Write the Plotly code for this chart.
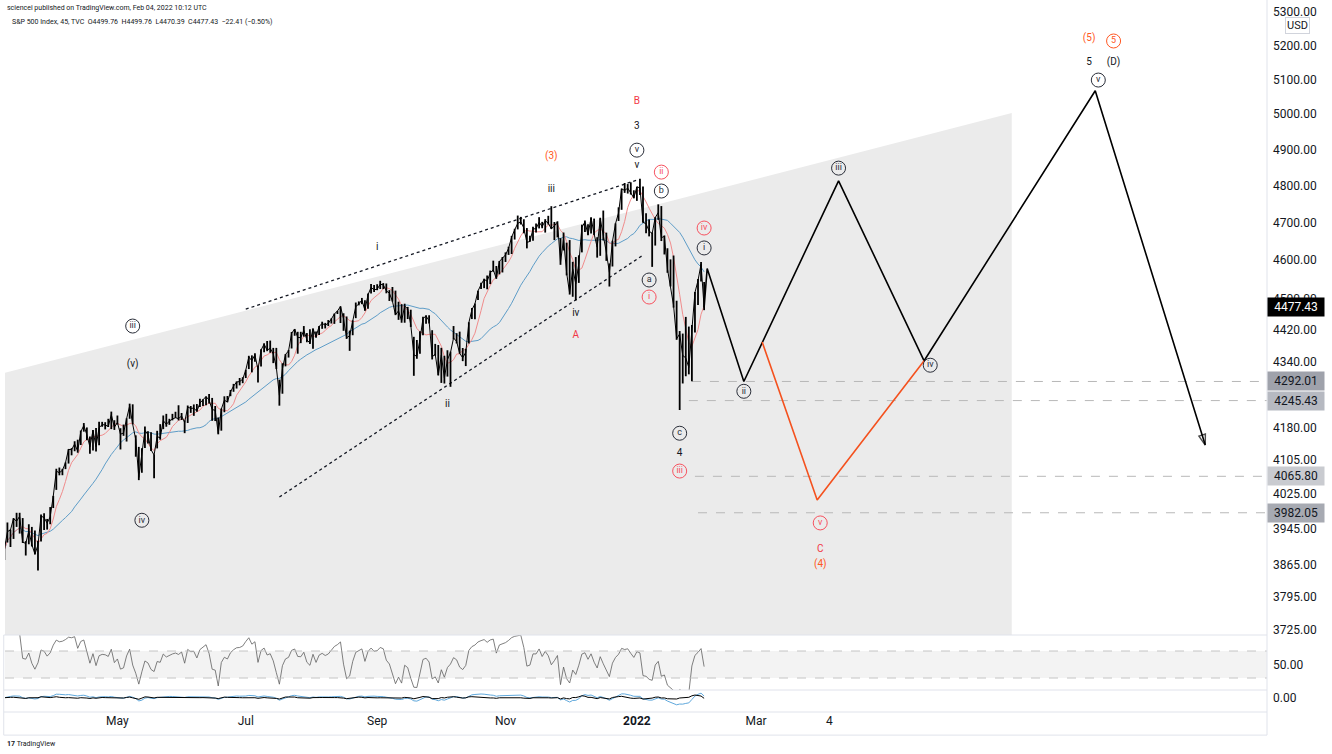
import math
import pandas as pd
import plotly.graph_objects as go

# ---- S&P 500 daily bars (Mar 10 2021 - Feb 3 2022) ----
market_holidays = ["2021-04-02", "2021-05-31", "2021-07-05", "2021-09-06",
                   "2021-11-25", "2021-12-24", "2022-01-17"]
future_holidays = ["2022-02-21", "2022-04-15", "2022-05-30", "2022-06-20",
                   "2022-07-04", "2022-09-05"]

closes = [
    # Mar
    3898.8, 3939.3, 3943.3, 3968.9, 3962.7, 3974.1, 3915.5, 3913.1, 3940.6, 3910.5, 3889.1, 3909.5, 3974.5, 3971.1, 3958.6, 3972.9,
    # Apr
    4019.9, 4077.9, 4073.9, 4079.9, 4097.2, 4128.8, 4128.0, 4141.6, 4124.7, 4170.4, 4185.5, 4163.3, 4134.9, 4173.4, 4135.0, 4180.2, 4187.6, 4186.7, 4183.2, 4211.5, 4181.2,
    # May
    4192.7, 4164.7, 4167.6, 4201.6, 4232.6, 4188.4, 4152.1, 4063.0, 4112.5, 4173.9, 4163.3, 4127.8, 4115.7, 4159.1, 4156.0, 4197.1, 4188.1, 4196.0, 4200.9, 4204.1,
    # Jun
    4202.0, 4208.1, 4192.9, 4229.9, 4226.5, 4227.3, 4219.6, 4239.2, 4247.4, 4255.2, 4246.6, 4223.7, 4221.9, 4166.5, 4224.8, 4246.4, 4241.8, 4266.5, 4280.7, 4290.6, 4291.8, 4297.5,
    # Jul
    4319.9, 4352.3, 4343.5, 4358.1, 4320.8, 4369.6, 4384.6, 4369.2, 4374.3, 4360.0, 4327.2, 4258.5, 4323.1, 4358.7, 4367.5, 4411.8, 4422.3, 4401.5, 4400.6, 4419.2, 4395.3,
    # Aug
    4387.2, 4423.2, 4402.7, 4429.1, 4436.5, 4432.4, 4436.8, 4447.7, 4460.8, 4468.0, 4479.7, 4448.1, 4400.3, 4405.8, 4441.7, 4479.5, 4486.2, 4496.2, 4470.0, 4509.4, 4528.8, 4522.7,
    # Sep
    4524.1, 4537.0, 4535.4, 4520.0, 4514.1, 4493.3, 4458.6, 4468.7, 4443.1, 4480.7, 4473.8, 4433.0, 4357.7, 4354.2, 4395.6, 4449.0, 4455.5, 4443.1, 4352.6, 4359.5, 4307.5,
    # Oct
    4357.0, 4300.5, 4345.7, 4363.6, 4399.8, 4391.3, 4361.2, 4350.7, 4363.8, 4438.3, 4471.4, 4486.5, 4519.6, 4536.2, 4549.8, 4544.9, 4566.5, 4574.8, 4551.7, 4596.4, 4605.4,
    # Nov
    4613.7, 4630.7, 4660.6, 4680.1, 4697.5, 4701.7, 4685.3, 4646.7, 4649.3, 4682.9, 4682.8, 4700.9, 4688.7, 4704.5, 4698.0, 4682.9, 4690.7, 4701.5, 4594.6, 4655.3, 4567.0,
    # Dec
    4513.0, 4577.1, 4538.4, 4591.7, 4686.8, 4701.2, 4667.5, 4712.0, 4669.0, 4634.1, 4709.9, 4668.7, 4620.6, 4568.0, 4649.2, 4696.6, 4725.8, 4791.2, 4786.4, 4793.1, 4778.7, 4766.2,
    # Jan
    4796.6, 4793.5, 4700.6, 4696.1, 4677.0, 4670.3, 4713.1, 4726.4, 4659.0, 4662.9, 4577.1, 4532.8, 4482.7, 4397.9, 4410.1, 4356.5, 4349.9, 4326.5, 4431.9, 4515.6,
    # Feb
    4546.5, 4589.4, 4477.4,
]
highs = [
    3918, 3960, 3944, 3970, 3982, 3982, 3970, 3918, 3956, 3950, 3942, 3919, 3978, 3981, 3968, 3995,
    4020.6, 4083.4, 4086.2, 4083.1, 4098.2, 4129.5, 4131.8, 4148.0, 4151.7, 4173.5, 4191.3, 4180.8, 4159.2, 4175.0, 4179.6, 4194.2, 4194.2, 4193.4, 4201.5, 4218.8, 4198.1,
    4209.4, 4179.0, 4187.7, 4202.7, 4238.0, 4236.4, 4162.0, 4134.7, 4131.6, 4183.1, 4171.9, 4169.1, 4116.9, 4172.8, 4188.7, 4209.5, 4213.4, 4201.5, 4213.4, 4218.4,
    4234.1, 4215.4, 4197.7, 4233.5, 4232.3, 4236.1, 4237.1, 4249.7, 4248.4, 4255.6, 4261.6, 4251.9, 4232.3, 4204.8, 4226.2, 4255.8, 4256.6, 4271.3, 4286.1, 4292.1, 4300.5, 4302.4,
    4320.7, 4355.4, 4356.5, 4361.9, 4330.9, 4372.0, 4386.7, 4392.4, 4393.4, 4375.1, 4375.1, 4296.4, 4336.8, 4359.7, 4369.9, 4415.0, 4422.7, 4415.5, 4415.5, 4430.0, 4412.3,
    4422.2, 4423.8, 4416.2, 4430.0, 4441.0, 4438.0, 4445.2, 4449.4, 4461.8, 4468.4, 4480.3, 4462.5, 4454.3, 4418.6, 4444.4, 4489.9, 4492.8, 4501.7, 4495.9, 4513.3, 4537.4, 4535.0,
    4537.1, 4545.9, 4540.0, 4539.0, 4521.8, 4529.9, 4520.5, 4492.0, 4485.7, 4486.9, 4478.7, 4471.5, 4402.9, 4394.9, 4416.8, 4453.8, 4457.6, 4457.3, 4419.5, 4385.1, 4382.4,
    4375.2, 4355.5, 4369.2, 4365.6, 4430.0, 4412.0, 4415.9, 4374.9, 4372.9, 4439.7, 4475.8, 4487.4, 4520.4, 4540.9, 4551.4, 4559.7, 4572.6, 4598.5, 4584.6, 4597.6, 4608.1,
    4620.3, 4635.2, 4664.0, 4683.0, 4718.5, 4714.9, 4708.5, 4684.9, 4664.6, 4688.5, 4697.4, 4714.1, 4701.5, 4708.8, 4717.8, 4743.8, 4701.2, 4702.9, 4658.0, 4673.0, 4646.0,
    4652.9, 4595.5, 4608.0, 4612.6, 4694.0, 4705.1, 4695.3, 4713.6, 4710.3, 4660.5, 4712.6, 4732.0, 4672.7, 4591.2, 4651.1, 4697.7, 4740.7, 4791.5, 4807.0, 4804.1, 4808.9, 4787.0,
    4796.6, 4818.6, 4797.7, 4725.0, 4708.0, 4673.0, 4714.1, 4748.8, 4744.1, 4665.1, 4631.2, 4601.9, 4612.0, 4494.5, 4417.4, 4411.0, 4453.2, 4428.7, 4432.7, 4516.9,
    4550.5, 4595.3, 4542.9,
]
lows = [
    3876, 3915, 3905, 3923, 3950, 3935, 3914, 3886, 3911, 3906, 3888, 3853, 3917, 3943, 3944, 3956,
    3992.8, 4034.4, 4068.1, 4068.3, 4082.5, 4095.5, 4114.8, 4124.4, 4120.9, 4139.1, 4170.8, 4150.5, 4118.4, 4126.4, 4123.7, 4138.8, 4182.4, 4176.2, 4181.8, 4176.8, 4174.9,
    4188.0, 4128.6, 4160.9, 4147.3, 4201.6, 4188.1, 4111.5, 4056.9, 4074.0, 4132.2, 4142.7, 4125.0, 4061.4, 4131.1, 4151.7, 4176.8, 4182.5, 4187.1, 4197.8, 4203.6,
    4197.6, 4198.7, 4167.2, 4191.5, 4215.7, 4208.6, 4218.7, 4229.8, 4232.6, 4234.1, 4238.1, 4196.7, 4196.1, 4164.4, 4173.1, 4217.3, 4241.4, 4256.1, 4266.8, 4274.7, 4282.5, 4287.8,
    4300.4, 4322.5, 4314.4, 4340.7, 4289.4, 4329.0, 4364.0, 4366.9, 4362.9, 4337.2, 4322.5, 4233.1, 4262.1, 4329.2, 4351.0, 4373.6, 4405.5, 4360.6, 4387.0, 4403.3, 4389.2,
    4384.8, 4373.0, 4400.2, 4407.3, 4423.0, 4424.0, 4430.0, 4436.4, 4435.5, 4460.5, 4437.7, 4418.0, 4397.6, 4367.7, 4406.8, 4450.0, 4482.7, 4485.7, 4469.0, 4474.1, 4513.4, 4517.2,
    4521.6, 4524.7, 4524.4, 4513.6, 4493.9, 4492.1, 4457.7, 4445.7, 4438.4, 4438.4, 4447.7, 4427.8, 4305.9, 4348.0, 4360.2, 4406.8, 4436.1, 4436.2, 4346.3, 4355.1, 4306.9,
    4288.5, 4287.0, 4304.0, 4278.9, 4397.0, 4386.2, 4360.6, 4342.1, 4329.9, 4386.1, 4447.7, 4447.3, 4496.4, 4524.4, 4526.9, 4524.0, 4537.4, 4569.2, 4551.7, 4562.8, 4567.6,
    4595.1, 4613.7, 4616.0, 4654.3, 4681.3, 4694.4, 4670.9, 4630.9, 4648.3, 4650.8, 4672.9, 4683.9, 4684.4, 4672.8, 4694.2, 4682.2, 4652.9, 4659.9, 4587.6, 4625.3, 4560.0,
    4510.3, 4504.7, 4495.1, 4540.5, 4620.3, 4674.5, 4666.0, 4670.2, 4666.5, 4606.5, 4611.2, 4651.9, 4598.0, 4531.1, 4583.2, 4636.1, 4703.9, 4734.0, 4780.0, 4778.1, 4775.3, 4765.0,
    4758.2, 4774.3, 4699.4, 4671.3, 4662.7, 4582.2, 4638.3, 4706.8, 4650.3, 4614.8, 4566.8, 4531.1, 4477.0, 4395.3, 4222.6, 4287.1, 4304.8, 4309.5, 4292.5, 4414.0,
    4483.5, 4544.3, 4470.4,
]

# ---- drawings (Elliott wave projection, channel, levels) ----
proj_dates = ["2022-02-03", "2022-02-04", "2022-02-23", "2022-04-07", "2022-05-18", "2022-08-09", "2022-09-29"]
proj_prices = [4477.43, 4578, 4292, 4813, 4343, 5067, 4139]
alt_dates = ["2022-03-03", "2022-03-29", "2022-05-18"]
alt_prices = [4390, 4011, 4343]

chan_dates = ["2021-03-10", "2022-06-29 16:00", "2022-06-29 16:00", "2021-03-10"]
chan_prices = [4313, 5003, 3500, 3500]

upper_trend_dates = ["2021-07-01", "2022-01-03"]
upper_trend_prices = [4473, 4815]
lower_trend_dates = ["2021-07-19", "2022-01-05"]
lower_trend_prices = [4018, 4613]

level_prices = [4292.01, 4245.43, 4065.80, 3982.05]
level_starts = ["2022-01-28", "2022-01-27", "2022-01-31", "2022-02-01"]
level_box_colors = ["#9fa2ab", "#b6b9c1", "#c9cbd0", "#a7aab2"]

label_text = ["(v)", "i", "ii", "iii", "iv", "v", "3", "4", "5", "(D)",
              "B", "A", "C", "(3)", "(4)", "(5)"]
label_dates = ["2021-05-10", "2021-09-01", "2021-10-05", "2021-11-22", "2021-12-03", "2022-01-03",
               "2022-01-03", "2022-01-24", "2022-08-05", "2022-08-17",
               "2022-01-03", "2021-12-03", "2022-03-30", "2021-11-22", "2022-03-30", "2022-08-05"]
label_prices = [4335, 4634, 4235, 4788, 4463, 4854, 4966, 4120, 5148, 5148,
                5037, 4405, 3900, 4879, 3867, 5219]
label_colors = ["#131722"] * 10 + ["#f23645"] * 3 + ["#ff5722"] * 3

circ_text = ["iii", "iv", "v", "a", "b", "c", "i", "ii", "iii", "iv", "v",
             "i", "ii", "iii", "iv", "v", "5"]
circ_dates = ["2021-05-10", "2021-05-13", "2022-01-03", "2022-01-07", "2022-01-13", "2022-01-24",
              "2022-02-03", "2022-02-23", "2022-04-07", "2022-05-20", "2022-08-10",
              "2022-01-07", "2022-01-13", "2022-01-24", "2022-02-03", "2022-03-30", "2022-08-17"]
circ_prices = [4430, 3965, 4898, 4548, 4785, 4167, 4632, 4268, 4848, 4332, 5098,
               4504, 4837, 4078, 4685, 3959, 5213]
circ_colors = ["#2a2e39"] * 11 + ["#f7525f"] * 5 + ["#ff5722"]

tick_prices = [5300, 5200, 5100, 5000, 4900, 4800, 4700, 4600, 4500, 4420, 4340,
               4180, 4105, 4025, 3945, 3865, 3795, 3725]
month_ticks = ["2021-05-03", "2021-07-01", "2021-09-01", "2021-11-01", "2022-01-03", "2022-03-01", "2022-04-04"]
month_labels = ["May", "Jul", "Sep", "Nov", "<b>2022</b>", "Mar", "4"]

last_price = 4477.43

# ---- build the series ----
days = pd.bdate_range("2021-03-10", "2022-02-03")
days = days[~days.isin(pd.to_datetime(market_holidays))]
df = pd.DataFrame({"close": closes, "high": highs, "low": lows}, index=days)
ma_fast = df["close"].rolling(6, min_periods=1).mean()
ma_slow = df["close"].rolling(23, min_periods=1).mean()

delta = df["close"].diff()
gain = delta.clip(lower=0).ewm(alpha=1 / 5, adjust=False).mean()
loss = (-delta.clip(upper=0)).ewm(alpha=1 / 5, adjust=False).mean()
rsi = 100 - 100 / (1 + gain / loss)
macd = df["close"].ewm(span=3, adjust=False).mean() - df["close"].ewm(span=6, adjust=False).mean()
signal = macd.ewm(span=3, adjust=False).mean()

# high-low range of every bar as one broken line
bar_x, bar_y = [], []
for d, lo, hi in zip(df.index, df["low"], df["high"]):
    bar_x += [d, d, None]
    bar_y += [lo, hi, None]

FONT = "Roboto"
fig = go.Figure()

fig.add_trace(go.Scatter(x=chan_dates, y=chan_prices, fill="toself", fillcolor="#ebebeb",
                         mode="lines", line=dict(width=0), hoverinfo="skip"))
fig.add_trace(go.Scatter(x=upper_trend_dates + [None] + lower_trend_dates,
                         y=upper_trend_prices + [None] + lower_trend_prices,
                         mode="lines", line=dict(color="#131722", width=1.3, dash="dot")))
for p, s in zip(level_prices, level_starts):
    fig.add_trace(go.Scatter(x=[s, "2022-11-30"], y=[p, p], mode="lines",
                             line=dict(color="#b8b8b8", width=1, dash="dash")))

fig.add_trace(go.Scatter(x=df.index, y=ma_slow, mode="lines", line=dict(color="#5e9dc8", width=1)))
fig.add_trace(go.Scatter(x=df.index, y=ma_fast, mode="lines", line=dict(color="#f08c8c", width=1)))
fig.add_trace(go.Scatter(x=bar_x, y=bar_y, mode="lines", line=dict(color="#000000", width=1.8),
                         hoverinfo="skip"))
fig.add_trace(go.Scatter(x=df.index, y=df["close"], mode="lines", line=dict(color="#000000", width=1)))

fig.add_trace(go.Scatter(x=proj_dates, y=proj_prices, mode="lines", line=dict(color="#000000", width=1.6)))
fig.add_trace(go.Scatter(x=alt_dates, y=alt_prices, mode="lines", line=dict(color="#f4511e", width=1.6)))
fig.add_trace(go.Scatter(x=proj_dates[-2:], y=proj_prices[-2:], mode="markers",
                         marker=dict(symbol="arrow-open", size=[0, 11], angleref="previous",
                                     color="#000000", line=dict(color="#000000", width=1.4))))

fig.add_trace(go.Scatter(x=label_dates, y=label_prices, text=label_text, mode="text",
                         textfont=dict(family=FONT, size=10, color=label_colors)))
fig.add_trace(go.Scatter(x=circ_dates, y=circ_prices, text=circ_text, mode="markers+text",
                         textposition="middle center",
                         marker=dict(symbol="circle-open", size=14, color=circ_colors,
                                     line=dict(width=1, color=circ_colors)),
                         textfont=dict(family=FONT, size=9, color=circ_colors)))

fig.add_trace(go.Scatter(x=df.index, y=rsi, yaxis="y2", mode="lines", line=dict(color="#606060", width=0.8)))
fig.add_trace(go.Scatter(x=df.index, y=macd, yaxis="y3", mode="lines", line=dict(color="#5fa8dc", width=1)))
fig.add_trace(go.Scatter(x=df.index, y=macd - signal, yaxis="y3", mode="lines", line=dict(color="#000000", width=1)))

axis_font = dict(family=FONT, size=12, color="#131722")
fig.update_layout(
    width=1332, height=754, showlegend=False,
    margin=dict(l=5, r=65, t=12, b=42, autoexpand=False),
    paper_bgcolor="white", plot_bgcolor="white",
    xaxis=dict(anchor="y3", range=["2021-03-10 05:00", "2022-10-27 05:00"],
               rangebreaks=[dict(bounds=["sat", "mon"]), dict(values=market_holidays + future_holidays)],
               showgrid=False, zeroline=False, showline=False, automargin=False,
               ticks="", tickmode="array", tickvals=month_ticks, ticktext=month_labels,
               tickfont=axis_font, ticklabelstandoff=0),
    yaxis=dict(domain=[0.11, 1], type="log", side="right", automargin=False,
               range=[math.log10(3713.6), math.log10(5300)],
               tickmode="array", tickvals=tick_prices, tickformat=".2f",
               showgrid=False, zeroline=False, ticks="", tickfont=axis_font, ticklabelstandoff=5),
    yaxis2=dict(domain=[0.0314, 0.11], side="right", range=[12.2, 93.7], automargin=False,
                tickmode="array", tickvals=[50], ticktext=["50.00"],
                showgrid=False, zeroline=False, ticks="", tickfont=axis_font, ticklabelstandoff=5),
    yaxis3=dict(domain=[0, 0.0314], side="right", range=[-130, 70], automargin=False,
                tickmode="array", tickvals=[0], ticktext=["0.00"],
                showgrid=False, zeroline=False, ticks="", tickfont=axis_font, ticklabelstandoff=5),
)

sep = "#e0e3eb"
shapes = [
    dict(type="rect", xref="x domain", yref="y2", x0=0, x1=1, y0=30, y1=70,
         fillcolor="#f3f3f3", line=dict(width=0), layer="below"),
    dict(type="line", xref="x domain", yref="y2", x0=0, x1=1, y0=70, y1=70,
         line=dict(color="#c4c4c4", width=1, dash="dash")),
    dict(type="line", xref="x domain", yref="y2", x0=0, x1=1, y0=30, y1=30,
         line=dict(color="#c4c4c4", width=1, dash="dash")),
]
for yy in [0.11, 0.0314, 0, -0.033]:
    shapes.append(dict(type="line", xref="paper", yref="paper", x0=-0.001, x1=1, y0=yy, y1=yy,
                       line=dict(color=sep, width=1)))
shapes.append(dict(type="line", xref="paper", yref="paper", x0=1, x1=1, y0=-0.033, y1=1.02,
                   line=dict(color=sep, width=1)))
shapes.append(dict(type="line", xref="paper", yref="paper", x0=-0.001, x1=-0.001, y0=-0.033, y1=0.11,
                   line=dict(color=sep, width=1)))
fig.update_layout(shapes=shapes)

ann = [
    dict(xref="paper", yref="paper", x=0, y=1.0057, xanchor="left", yanchor="middle", showarrow=False,
         text="sciencei published on TradingView.com, Feb 04, 2022 10:12 UTC",
         font=dict(family=FONT, size=7, color="#131722")),
    dict(xref="paper", yref="paper", x=0, y=0.9857, xshift=5, xanchor="left", yanchor="middle", showarrow=False,
         text="S&P 500 Index, 45, TVC  O4499.76  H4499.76  L4470.39  C4477.43  \u221222.41 (\u22120.50%)",
         font=dict(family=FONT, size=7, color="#131722")),
    dict(xref="paper", yref="paper", x=1, y=0.9814, xshift=30, xanchor="center", yanchor="middle",
         showarrow=False, text="USD", bgcolor="white", bordercolor="#d1d4dc", borderwidth=1, borderpad=1,
         font=dict(family=FONT, size=11, color="#131722")),
    dict(xref="paper", yref="paper", x=0, y=-0.0457, xanchor="left", yanchor="middle", showarrow=False,
         text="<b>17</b> TradingView", font=dict(family=FONT, size=7, color="#131722")),
    dict(xref="paper", yref="y", x=1, y=math.log10(last_price), xanchor="left", yanchor="middle",
         showarrow=False, text=f"{last_price:.2f}", bgcolor="#000000", borderpad=2, width=52,
         font=dict(family=FONT, size=12, color="white")),
]
for p, c in zip(level_prices, level_box_colors):
    ann.append(dict(xref="paper", yref="y", x=1, y=math.log10(p), xanchor="left", yanchor="middle",
                    showarrow=False, text=f"{p:.2f}", bgcolor=c, borderpad=2, width=52,
                    font=dict(family=FONT, size=12, color="#131722")))
fig.update_layout(annotations=ann)

# the page body has a default 8px margin; drop it so the chart sits at the window corner
fig.write_html("out.html", config={"displayModeBar": False},
               post_script="document.body.style.margin='0px';")
